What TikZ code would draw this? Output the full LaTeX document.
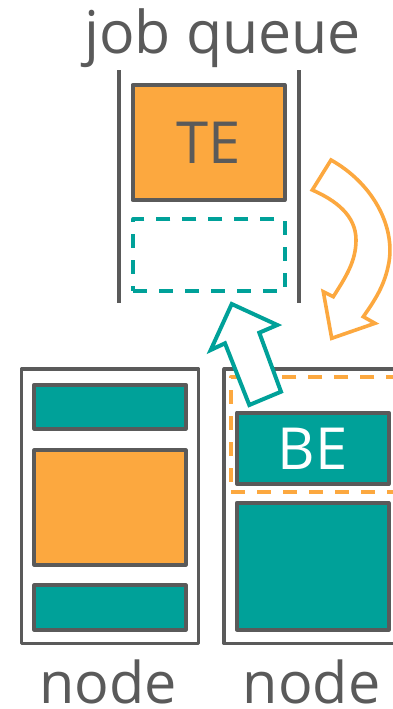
\documentclass[tikz,border=0pt]{standalone}
\usepackage{fontspec}
\setmainfont{Open Sans}
\definecolor{dg}{HTML}{5A5A5A}
\definecolor{og}{HTML}{FCA83F}
\definecolor{tl}{HTML}{00A199}
\begin{document}
\begin{tikzpicture}[x=1pt,y=-1pt,
  box/.style={draw=dg, line width=4pt, line join=round, inner sep=0pt, outer sep=0pt},
  outerbox/.style={draw=dg, line width=3.5pt, line join=round, inner sep=0pt, outer sep=0pt},
  dashbox/.style={line width=4pt, dash pattern=on 14pt off 12pt, line join=round, inner sep=0pt, outer sep=0pt},
  lbl/.style={text=dg, inner sep=0pt, anchor=base},
  qline/.style={draw=dg, line width=4pt},
  blockarrow/.style={fill=white, line width=4pt, line join=miter}]
\useasboundingbox (0,0) rectangle (393,709);
\clip (0,0) rectangle (393,709);
% job queue
\node[lbl, font=\fontsize{59}{62}\selectfont] (title) at (222.5,53) {job queue};
\coordinate (ql1) at (118.5,70); \coordinate (ql2) at (118.5,303);
\coordinate (qr1) at (299,70); \coordinate (qr2) at (299,303);
\draw[qline] (ql1) -- (ql2);
\draw[qline] (qr1) -- (qr2);
\node[box, fill=og, minimum width=152pt, minimum height=115pt, text=dg, font=\fontsize{58}{60}\selectfont] (te) at (208.5,142.5) {TE};
\node[dashbox, draw=tl, minimum width=151.5pt, minimum height=72pt] (slot) at (209.2,255) {};
% left node
\node[outerbox, minimum width=177pt, minimum height=274.5pt] (n1) at (110,506.2) {};
\node[box, fill=tl, minimum width=151.4pt, minimum height=44pt] (n1a) at (110,406.7) {};
\node[box, fill=og, minimum width=151.4pt, minimum height=114.4pt] (n1b) at (110,507.5) {};
\node[box, fill=tl, minimum width=151.4pt, minimum height=44.4pt] (n1c) at (110,607.5) {};
% right node
\node[outerbox, minimum width=300pt, minimum height=274.5pt] (n2) at (374.2,506.2) {};
\node[dashbox, draw=og, minimum width=300pt, minimum height=115pt] (sel) at (381.3,434.5) {};
\node[box, fill=tl, minimum width=151.7pt, minimum height=71.3pt, text=white, font=\fontsize{58}{60}\selectfont] (be) at (312.8,448.3) {BE};
\node[box, fill=tl, minimum width=151.7pt, minimum height=126.7pt] (n2b) at (312.8,566.3) {};
% labels
\node[lbl, font=\fontsize{57.5}{60}\selectfont] (lab1) at (108.3,703) {node};
\node[lbl, font=\fontsize{57.5}{60}\selectfont] (lab2) at (311.7,703) {node};
% teal block arrow (BE -> slot)
\draw[blockarrow, draw=tl] (231.7,304) -- (277.3,325) -- (259.3,332.7) -- (281,391.7)
  -- (249.3,405) -- (225,343.3) -- (210.7,350) -- cycle;
% orange curved arrow (TE -> node)
\draw[blockarrow, draw=og, line width=3.6pt] (331,160)
  .. controls (372,183) and (395,225) .. (389,262)
  .. controls (385,285) and (375,300) .. (363.3,316.7)
  -- (375,323.3) -- (331.7,338.3) -- (323.3,291.7) -- (333.3,296.7)
  .. controls (345,278) and (356,262) .. (356,240)
  .. controls (356,215) and (335,200) .. (312.3,190) -- cycle;
\end{tikzpicture}
\end{document}
